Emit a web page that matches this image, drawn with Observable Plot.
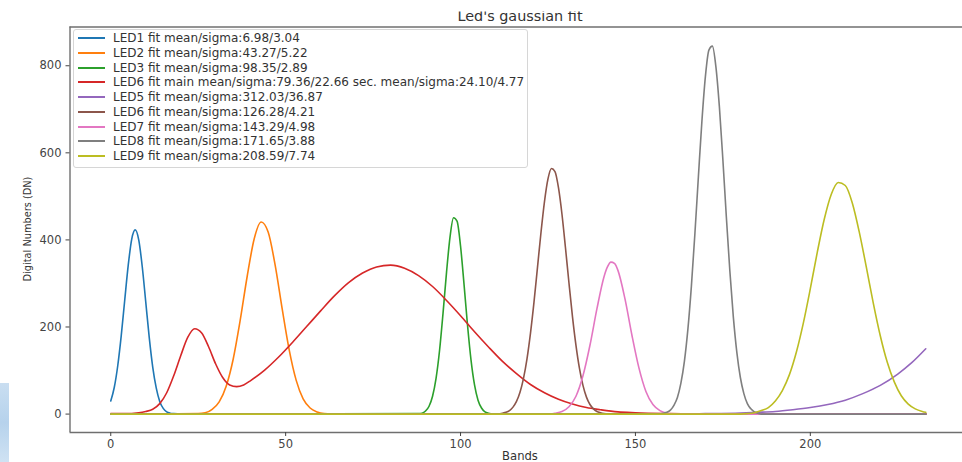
<!DOCTYPE html>
<html>
<head>
<meta charset="utf-8">
<script src="https://cdn.jsdelivr.net/npm/d3@7"></script>
<script src="https://cdn.jsdelivr.net/npm/@observablehq/plot@0.6"></script>
<style>
  html, body { margin: 0; padding: 0; background: #fff; }
  #wrap { position: relative; width: 962px; height: 462px; overflow: hidden; font-family: "DejaVu Sans", sans-serif; }
  #legend { position: absolute; left: 73px; top: 28.5px; width: 455px; height: 139px; border: 1px solid #d6d6d6; border-radius: 3px; background: rgba(255,255,255,0.85); box-sizing: border-box; }
  .sw { position: absolute; left: 4px; width: 27px; height: 2px; }
  .lt { position: absolute; left: 39px; font-size: 12px; line-height: 14px; color: #333; white-space: nowrap; }
  #blue { position: absolute; left: 0; top: 383px; width: 9px; height: 79px; background: linear-gradient(180deg, #c9def1, #b6d2ec 50%, #cfe2f3); }
</style>
</head>
<body>
<div id="wrap"></div>
<script>
// ---- data: [band, digital number] ----
const led1 = [[0,30],[1,61],[2,111],[3,180],[4,262],[5,342],[6,402],[7,423],[8,400],[9,339],[10,258],[11,176],[12,108],[13,60],[14,29],[15,13],[16,5],[17,2],[18,1],[20,0],[233,0]];
const led2 = [[0,0],[25,1],[27,3],[29,11],[31,28],[33,64],[35,126],[37,215],[39,316],[41,402],[43,441],[45,418],[47,342],[49,242],[51,148],[53,78],[55,35],[57,14],[59,5],[61,1],[63,0],[233,0]];
const led3 = [[0,0],[88,1],[89,2],[90,7],[91,18],[92,41],[93,82],[94,146],[95,232],[96,326],[97,407],[98,451],[99,443],[100,386],[101,298],[102,204],[103,124],[104,67],[105,32],[106,14],[107,5],[108,2],[110,0],[233,0]];
const led6main = [[0,1],[4,1],[8,3],[10,6],[12,11],[14,24],[16,49],[18,88],[20,134],[22,176],[24,196],[26,186],[28,154],[30,115],[32,84],[34,67],[36,63],[38,67],[40,77],[44,101],[48,131],[52,165],[56,201],[60,237],[64,272],[68,302],[72,324],[76,338],[80,342],[84,335],[88,318],[92,293],[96,261],[100,226],[104,189],[108,154],[112,121],[116,93],[120,68],[124,49],[128,34],[132,23],[136,15],[140,10],[145,5],[150,3],[160,1],[170,0],[233,0]];
const led5 = [[0,0],[150,0],[160,0.3],[170,1],[180,2.4],[185,4],[190,6],[195,10],[200,15],[205,22],[210,32],[215,47],[220,66],[225,92],[229,118],[233,150]];
const led6 = [[0,0],[110,0],[112,2],[113,4],[114,8],[115,16],[116,29],[117,50],[118,82],[119,127],[120,186],[121,257],[122,337],[123,417],[124,488],[125,540],[126,564],[127,557],[128,520],[129,459],[130,382],[131,301],[132,224],[133,158],[134,105],[135,66],[136,39],[137,22],[138,12],[139,6],[140,3],[141,1],[142,0],[233,0]];
const led7 = [[0,0],[125,0],[127,2],[129,6],[131,17],[133,41],[135,88],[137,158],[139,242],[141,315],[142,338],[143,349],[144,346],[145,330],[147,265],[149,181],[151,106],[153,52],[155,22],[157,8],[159,2],[161,0],[233,0]];
const led8 = [[0,0],[156,0],[158,2],[159,4],[160,9],[161,20],[162,38],[163,71],[164,121],[165,195],[166,294],[167,414],[168,545],[169,672],[170,775],[171,836],[172,845],[173,798],[174,706],[175,584],[176,452],[177,328],[178,222],[179,141],[180,84],[181,47],[182,24],[183,12],[184,5],[185,2],[186,0],[233,0]];
const led9 = [[0,0],[180,0],[182,1],[184,3],[186,8],[188,15],[190,30],[192,54],[194,90],[196,142],[198,209],[200,288],[202,372],[204,448],[206,505],[208,532],[210,525],[212,485],[214,418],[216,338],[218,255],[220,180],[222,119],[224,74],[226,42],[228,23],[230,12],[232,6],[233,4]];

const seriesKeys = ["LED1","LED2","LED3","LED6main","LED5","LED6","LED7","LED8","LED9"];
const seriesData = [led1, led2, led3, led6main, led5, led6, led7, led8, led9];
const seriesLabels = [
  "LED1 fit mean/sigma:6.98/3.04",
  "LED2 fit mean/sigma:43.27/5.22",
  "LED3 fit mean/sigma:98.35/2.89",
  "LED6 fit main mean/sigma:79.36/22.66 sec. mean/sigma:24.10/4.77",
  "LED5 fit mean/sigma:312.03/36.87",
  "LED6 fit mean/sigma:126.28/4.21",
  "LED7 fit mean/sigma:143.29/4.98",
  "LED8 fit mean/sigma:171.65/3.88",
  "LED9 fit mean/sigma:208.59/7.74"
];
const seriesColors = ["#1f77b4","#ff7f0e","#2ca02c","#d62728","#9467bd","#8c564b","#e377c2","#7f7f7f","#bcbd22"];

const xTicks = [0, 50, 100, 150, 200];
const yTicks = [0, 200, 400, 600, 800];
const xDomain = [-11.65, 244.65];
const yDomain = [-42.3, 889];

const titleText = "Led's gaussian fit";
const xLabel = "Bands";
const yLabel = "Digital Numbers (DN)";

// ---- build table ----
const rows = seriesKeys.flatMap((k, i) => seriesData[i].map(([band, value]) => ({series: k, band, value})));

const spine = "#6f6f6f";
const chart = Plot.plot({
  width: 962,
  height: 462,
  marginLeft: 69.5,
  marginRight: 0,
  marginTop: 26.5,
  marginBottom: 30,
  x: {domain: xDomain, range: [69.5, 966]},
  y: {domain: yDomain},
  color: {domain: seriesKeys, range: seriesColors},
  style: {fontFamily: "'DejaVu Sans', sans-serif", fontSize: "11.5px", color: "#3a3a3a", background: "transparent"},
  marks: [
    Plot.ruleY([yDomain[0], yDomain[1]], {stroke: spine, strokeWidth: 1.4}),
    Plot.ruleX([xDomain[0]], {stroke: spine, strokeWidth: 1.4}),
    Plot.line(rows, {x: "band", y: "value", z: "series", stroke: "series", strokeWidth: 1.6, curve: "monotone-x"}),
    Plot.axisX({ticks: xTicks, tickSize: 4, tickPadding: 3, label: null, color: "#444"}),
    Plot.axisY({ticks: yTicks, tickSize: 4, tickPadding: 4.5, label: null, color: "#444"})
  ]
});

const wrap = document.getElementById("wrap");
chart.style.position = "absolute";
chart.style.left = "0";
chart.style.top = "0";
wrap.appendChild(chart);

// axis labels and title
const svg = d3.select(chart);
const tg = svg.append("g").attr("font-family", "'DejaVu Sans', sans-serif").attr("fill", "#333");
tg.append("text").attr("x", 520).attr("y", 21).attr("text-anchor", "middle").attr("font-size", 14.4).text(titleText);
svg.append("rect").attr("x", 430).attr("y", 0).attr("width", 180).attr("height", 11.5).attr("fill", "#fff");
tg.append("text").attr("x", 520).attr("y", 459.5).attr("text-anchor", "middle").attr("font-size", 11.6).text(xLabel);
tg.append("text")
  .attr("transform", "translate(27,229) scale(1.15,1) rotate(-90)")
  .attr("text-anchor", "middle").attr("dominant-baseline", "central")
  .attr("font-size", 9.8).text(yLabel);

// legend
const legend = document.createElement("div");
legend.id = "legend";
seriesLabels.forEach((lab, i) => {
  const c = 38.3 + i * 14.7 - 29.5;
  const sw = document.createElement("div");
  sw.className = "sw";
  sw.style.top = (c - 1) + "px";
  sw.style.background = seriesColors[i];
  const t = document.createElement("div");
  t.className = "lt";
  t.style.top = (c - 7) + "px";
  t.textContent = lab;
  legend.appendChild(sw);
  legend.appendChild(t);
});
wrap.appendChild(legend);

const blue = document.createElement("div");
blue.id = "blue";
wrap.appendChild(blue);
</script>
</body>
</html>
